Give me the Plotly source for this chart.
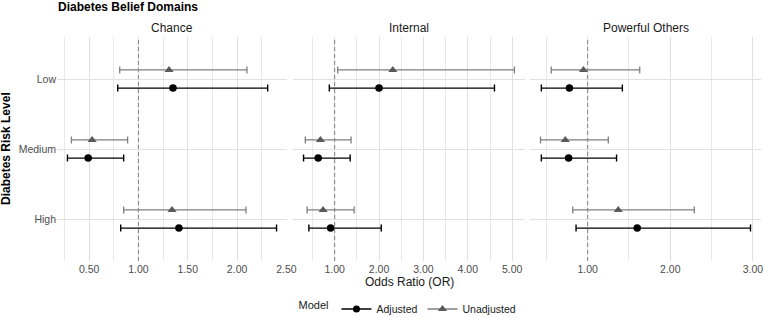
import plotly.graph_objects as go

# ---------------- data ----------------
levels = ["Low", "Medium", "High"]
domains = ["Chance", "Internal", "Powerful Others"]
models = ["Adjusted", "Unadjusted"]

chance_adj_or = [1.35, 0.49, 1.41]
chance_adj_lo = [0.79, 0.28, 0.82]
chance_adj_hi = [2.31, 0.85, 2.40]
chance_unadj_or = [1.31, 0.53, 1.34]
chance_unadj_lo = [0.81, 0.32, 0.85]
chance_unadj_hi = [2.10, 0.89, 2.09]

internal_adj_or = [2.00, 0.63, 0.91]
internal_adj_lo = [0.88, 0.30, 0.42]
internal_adj_hi = [4.60, 1.35, 2.05]
internal_unadj_or = [2.31, 0.68, 0.74]
internal_unadj_lo = [1.07, 0.34, 0.38]
internal_unadj_hi = [5.05, 1.37, 1.44]

po_adj_or = [0.78, 0.77, 1.60]
po_adj_lo = [0.44, 0.44, 0.86]
po_adj_hi = [1.42, 1.35, 2.97]
po_unadj_or = [0.95, 0.73, 1.37]
po_unadj_lo = [0.56, 0.43, 0.82]
po_unadj_hi = [1.63, 1.25, 2.29]

chance_ticks = [0.5, 1.0, 1.5, 2.0, 2.5]
chance_minor = [0.25, 0.75, 1.25, 1.75, 2.25]
internal_ticks = [1, 2, 3, 4, 5]
internal_minor = [0.5, 1.5, 2.5, 3.5, 4.5]
po_ticks = [1, 2, 3]
po_minor = [0.5, 1.5, 2.5]

reference_or = 1.0

# ---------------- layout helpers ----------------
W, H = 763, 318
FONT = "Liberation Sans, Arial, sans-serif"


def px_x(p):
    return p / W


def px_y(p):
    return 1 - p / H


panel_px = [(57, 287), (293, 525), (530, 761)]
y_dom = [px_y(261), px_y(37)]

ADJ_COLOR = "#000000"
UNADJ_MARK = "#595959"
UNADJ_BAR = "#7f7f7f"
dodge = 0.13

panels = [
    (chance_adj_or, chance_adj_lo, chance_adj_hi,
     chance_unadj_or, chance_unadj_lo, chance_unadj_hi, chance_ticks, chance_minor),
    (internal_adj_or, internal_adj_lo, internal_adj_hi,
     internal_unadj_or, internal_unadj_lo, internal_unadj_hi, internal_ticks, internal_minor),
    (po_adj_or, po_adj_lo, po_adj_hi,
     po_unadj_or, po_unadj_lo, po_unadj_hi, po_ticks, po_minor),
]

fig = go.Figure()
pos = list(range(1, len(levels) + 1))

layout = {}
shapes = []
annotations = []

for i, (a_or, a_lo, a_hi, u_or, u_lo, u_hi, ticks, minor) in enumerate(panels):
    xname = "x" if i == 0 else f"x{i+1}"
    yname = "y" if i == 0 else f"y{i+1}"
    xkey = "xaxis" if i == 0 else f"xaxis{i+1}"
    ykey = "yaxis" if i == 0 else f"yaxis{i+1}"

    # unadjusted
    fig.add_trace(go.Scatter(
        x=u_or, y=[p - dodge for p in pos], xaxis=xname, yaxis=yname,
        mode="markers",
        marker=dict(symbol="triangle-up", size=8, color=UNADJ_MARK),
        error_x=dict(type="data", symmetric=False,
                     array=[h - o for h, o in zip(u_hi, u_or)],
                     arrayminus=[o - l for o, l in zip(u_or, u_lo)],
                     color=UNADJ_BAR, thickness=1.3, width=3.5),
        showlegend=False, hoverinfo="skip"))
    # adjusted
    fig.add_trace(go.Scatter(
        x=a_or, y=[p + dodge for p in pos], xaxis=xname, yaxis=yname,
        mode="markers",
        marker=dict(symbol="circle", size=7.5, color=ADJ_COLOR),
        error_x=dict(type="data", symmetric=False,
                     array=[h - o for h, o in zip(a_hi, a_or)],
                     arrayminus=[o - l for o, l in zip(a_or, a_lo)],
                     color=ADJ_COLOR, thickness=1.4, width=3.5),
        showlegend=False, hoverinfo="skip"))

    lo = min(a_lo + u_lo)
    hi = max(a_hi + u_hi)
    pad = (hi - lo) * 0.05
    layout[xkey] = dict(
        domain=[px_x(panel_px[i][0]), px_x(panel_px[i][1])],
        anchor=yname, range=[lo - pad, hi + pad],
        tickvals=ticks, ticktext=[f"{t:.2f}" for t in ticks],
        ticklabeloverflow="allow",
        showgrid=True, gridcolor="#e0e0e0", gridwidth=1,
        minor=dict(tickvals=minor, showgrid=True, gridcolor="#e8e8e8", gridwidth=0.8),
        zeroline=False, showline=False, ticks="",
        tickfont=dict(family=FONT, size=10.5, color="#4d4d4d"),
    )
    layout[ykey] = dict(
        domain=y_dom, anchor=xname, range=[3.6, 0.4],
        tickvals=pos, ticktext=levels,
        showticklabels=(i == 0),
        showgrid=True, gridcolor="#e0e0e0", gridwidth=1,
        zeroline=False, showline=False, ticks="",
        tickfont=dict(family=FONT, size=10.5, color="#4d4d4d"),
    )
    if i > 0:
        layout[ykey]["matches"] = "y"

    shapes.append(dict(type="line", xref=xname, yref=f"{yname} domain",
                       x0=reference_or, x1=reference_or, y0=0, y1=1,
                       line=dict(color="#8a8a8a", width=1.1, dash="4px,3px"), layer="above"))
    annotations.append(dict(
        text=domains[i], xref="paper", yref="paper",
        x=(px_x(panel_px[i][0]) + px_x(panel_px[i][1])) / 2, y=px_y(28),
        xanchor="center", yanchor="middle", showarrow=False,
        font=dict(family=FONT, size=12, color="#1a1a1a")))

# legend entries
fig.add_trace(go.Scatter(x=[None], y=[None], mode="lines+markers", name=models[0],
                         marker=dict(symbol="circle", size=7, color=ADJ_COLOR),
                         line=dict(color=ADJ_COLOR, width=1.4)))
fig.add_trace(go.Scatter(x=[None], y=[None], mode="lines+markers", name=models[1],
                         marker=dict(symbol="triangle-up", size=8, color=UNADJ_MARK),
                         line=dict(color=UNADJ_BAR, width=1.3)))

annotations += [
    dict(text="<b>Diabetes Belief Domains</b>", xref="paper", yref="paper",
         x=px_x(56), y=px_y(7), xanchor="left", yanchor="middle", showarrow=False,
         font=dict(family=FONT, size=12, color="#000000")),
    dict(text="<b>Diabetes Risk Level</b>", xref="paper", yref="paper",
         x=px_x(6), y=(y_dom[0] + y_dom[1]) / 2, xanchor="center", yanchor="middle",
         textangle=-90, showarrow=False,
         font=dict(family=FONT, size=12, color="#000000")),
    dict(text="Odds Ratio (OR)", xref="paper", yref="paper",
         x=px_x(409), y=px_y(282), xanchor="center", yanchor="middle", showarrow=False,
         font=dict(family=FONT, size=12, color="#1a1a1a")),
]

fig.update_layout(
    width=W, height=H,
    margin=dict(l=0, r=0, t=0, b=0, autoexpand=False),
    paper_bgcolor="white", plot_bgcolor="white",
    shapes=shapes, annotations=annotations,
    showlegend=True,
    legend=dict(orientation="h", x=px_x(409), xanchor="center", y=px_y(309), yanchor="middle",
                title=dict(text="Model", side="left", font=dict(family=FONT, size=11, color="#1a1a1a")),
                font=dict(family=FONT, size=10.5, color="#1a1a1a"),
                itemwidth=30, bgcolor="rgba(0,0,0,0)"),
    **layout,
)

fig.write_html("out.html", config={"displayModeBar": False},
               post_script="document.body.style.margin='0px';document.body.style.overflow='hidden';")
